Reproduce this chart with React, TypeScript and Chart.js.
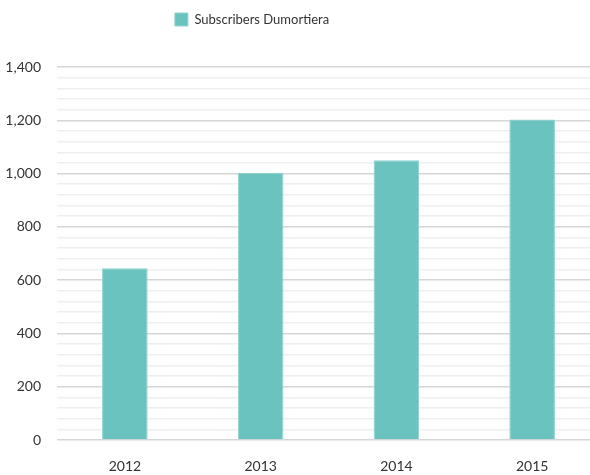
import React, { useEffect, useRef } from "react";
import { Chart, registerables } from "chart.js";

Chart.register(...registerables);

const categories = ["2012", "2013", "2014", "2015"];
const subscribers = [645, 1003, 1050, 1203];
const seriesLabel = "Subscribers Dumortiera";

const EXTRA_TOP = 31;

const legendShift = {
  id: "legendShift",
  afterLayout(chart: any) {
    const lg = chart.legend;
    if (lg) {
      lg.left = 0;
      lg.right = 504;
      lg.top -= EXTRA_TOP;
      lg.bottom -= EXTRA_TOP;
    }
  },
};

export default function App() {
  const ref = useRef<HTMLCanvasElement | null>(null);
  useEffect(() => {
    if (!ref.current) return;
    const chart = new Chart(ref.current, {
      type: "bar",
      data: {
        labels: categories,
        datasets: [
          {
            label: seriesLabel,
            data: subscribers,
            backgroundColor: "#6ac3bf",
            borderColor: "#8fd3cf",
            borderWidth: 1,
            barPercentage: 0.336,
            categoryPercentage: 1,
          },
        ],
      },
      options: {
        animation: false,
        responsive: false,
        maintainAspectRatio: false,
        layout: { padding: { top: 3 + EXTRA_TOP, left: 0, right: 0, bottom: 0 } },
        plugins: {
          legend: {
            position: "top",
            labels: {
              boxWidth: 13,
              boxHeight: 13,
              padding: 10,
              color: "#333",
              font: { family: "Lato", size: 13 },
            },
          },
          tooltip: { enabled: false },
        },
        scales: {
          x: {
            grid: { display: false, drawTicks: false },
            border: { display: false },
            ticks: {
              color: "#333",
              padding: 18,
              font: { family: "Lato", size: 14 },
            },
            afterFit: (s: any) => {
              s.height = 35;
            },
          },
          y: {
            min: 0,
            max: 1400,
            border: { display: false },
            grid: {
              drawTicks: false,
              color: (c: any) =>
                c.tick && c.tick.value % 200 === 0 ? "#d6d6d6" : "#efefef",
              lineWidth: 1.5,
            },
            ticks: {
              stepSize: 40,
              autoSkip: false,
              padding: 16,
              color: "#333",
              font: { family: "Lato", size: 14 },
              callback: (v: any) =>
                Number(v) % 200 === 0 ? Number(v).toLocaleString("en-US") : "",
            },
            afterFit: (s: any) => {
              s.width = 57;
            },
          },
        },
      },
      plugins: [legendShift],
    });
    return () => chart.destroy();
  }, []);
  return (
    <div style={{ position: "absolute", left: 0, top: 0, width: 600, height: 475 }}>
      <canvas ref={ref} width={600} height={475} style={{ width: 600, height: 475 }} />
    </div>
  );
}
